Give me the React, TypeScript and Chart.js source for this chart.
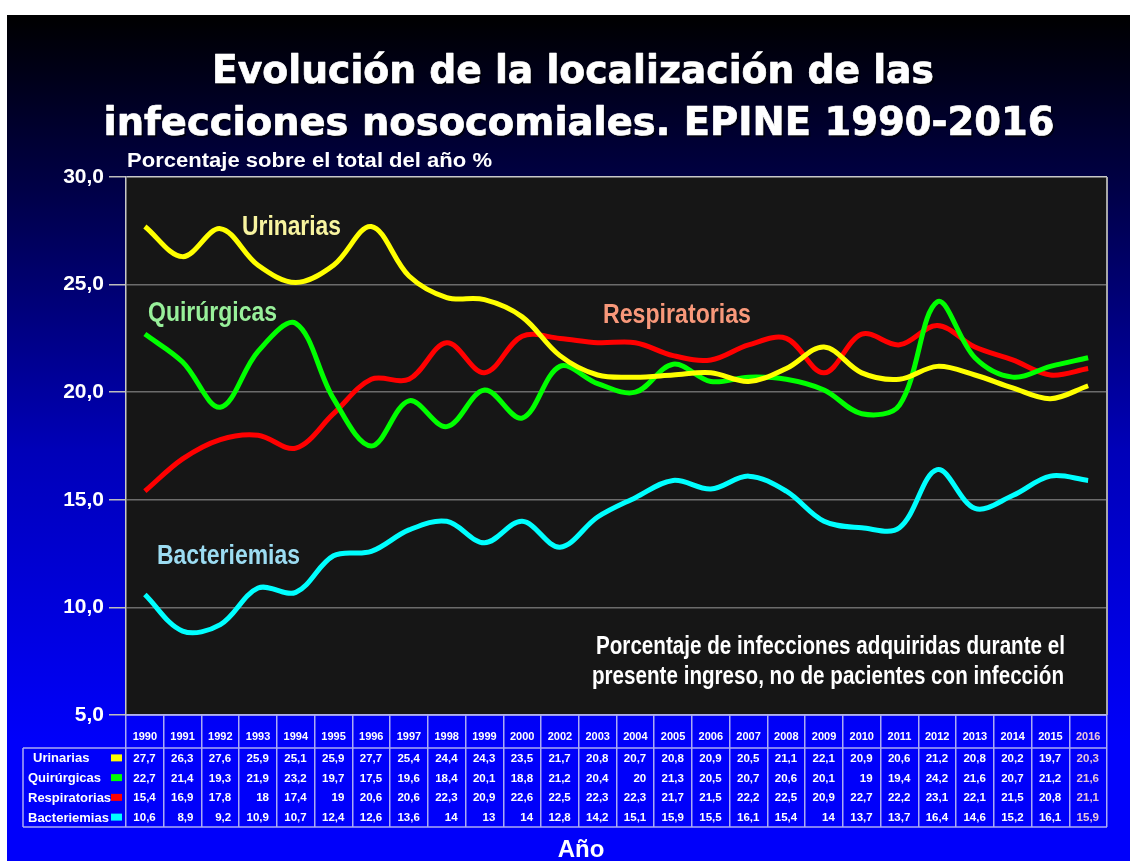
import React, { useEffect, useRef } from 'react';
import { Chart, registerables } from 'chart.js';

Chart.register(...registerables);

const W = 1130;
const H = 861;

const YEARS = ['1990', '1991', '1992', '1993', '1994', '1995', '1996', '1997', '1998', '1999', '2000', '2002', '2003', '2004', '2005', '2006', '2007', '2008', '2009', '2010', '2011', '2012', '2013', '2014', '2015', '2016'];

const URINARIAS = [27.7, 26.3, 27.6, 25.9, 25.1, 25.9, 27.7, 25.4, 24.4, 24.3, 23.5, 21.7, 20.8, 20.7, 20.8, 20.9, 20.5, 21.1, 22.1, 20.9, 20.6, 21.2, 20.8, 20.2, 19.7, 20.3];
const QUIRURGICAS = [22.7, 21.4, 19.3, 21.9, 23.2, 19.7, 17.5, 19.6, 18.4, 20.1, 18.8, 21.2, 20.4, 20, 21.3, 20.5, 20.7, 20.6, 20.1, 19, 19.4, 24.2, 21.6, 20.7, 21.2, 21.6];
const RESPIRATORIAS = [15.4, 16.9, 17.8, 18, 17.4, 19, 20.6, 20.6, 22.3, 20.9, 22.6, 22.5, 22.3, 22.3, 21.7, 21.5, 22.2, 22.5, 20.9, 22.7, 22.2, 23.1, 22.1, 21.5, 20.8, 21.1];
const BACTERIEMIAS = [10.6, 8.9, 9.2, 10.9, 10.7, 12.4, 12.6, 13.6, 14, 13, 14, 12.8, 14.2, 15.1, 15.9, 15.5, 16.1, 15.4, 14, 13.7, 13.7, 16.4, 14.6, 15.2, 16.1, 15.9];

const SERIES_NAMES = ['Urinarias', 'Quirúrgicas', 'Respiratorias', 'Bacteriemias'];
const SERIES_VALUES = [URINARIAS, QUIRURGICAS, RESPIRATORIAS, BACTERIEMIAS];
const SERIES_COLORS = ['#ffff00', '#00ff00', '#ff0000', '#00ffff'];
const LABEL_COLORS = ['#f8f4a0', '#98f09a', '#f8987a', '#9cdcf2'];

const Y_MIN = 5;
const Y_MAX = 30;
const Y_STEP = 5;

const TITLE_LINES = ['Evolución de la localización de las', 'infecciones nosocomiales. EPINE 1990-2016'];
const SUBTITLE = 'Porcentaje sobre el total del año %';
const NOTE_LINES = ['Porcentaje de infecciones adquiridas durante el', 'presente ingreso, no de pacientes con infección'];
const X_TITLE = 'Año';

const SANS = '"Liberation Sans", Arial, sans-serif';
const TITLE_FONT = '"DejaVu Sans", Verdana, sans-serif';

function fmt(v: number): string {
  return Number.isInteger(v) ? String(v) : v.toFixed(1).replace('.', ',');
}

function fitText(ctx: CanvasRenderingContext2D, text: string, x: number, y: number, font: string, width: number, align: CanvasTextAlign, stroke = 0) {
  ctx.save();
  ctx.font = font;
  const m = ctx.measureText(text).width;
  const sx = width / m;
  ctx.translate(x, y);
  ctx.scale(sx, 1);
  ctx.textAlign = align;
  ctx.textBaseline = 'alphabetic';
  ctx.fillText(text, 0, 0);
  if (stroke > 0) {
    ctx.shadowColor = 'transparent';
    ctx.strokeStyle = ctx.fillStyle as string;
    ctx.lineWidth = stroke;
    ctx.lineJoin = 'round';
    ctx.strokeText(text, 0, 0);
  }
  ctx.restore();
}

const decorPlugin = {
  id: 'decor',
  beforeDraw(chart: any) {
    const ctx: CanvasRenderingContext2D = chart.ctx;
    const ca = chart.chartArea;
    ctx.save();
    ctx.fillStyle = '#ffffff';
    ctx.fillRect(0, 0, W, H);
    const g = ctx.createLinearGradient(0, 15, 0, 740);
    g.addColorStop(0, '#000000');
    g.addColorStop(0.25, '#00004a');
    g.addColorStop(0.6, '#0000b8');
    g.addColorStop(1, '#0000fa');
    ctx.fillStyle = g;
    ctx.fillRect(7, 15, W - 7, H - 15);
    // plot background
    ctx.fillStyle = '#161616';
    ctx.fillRect(ca.left, ca.top, ca.right - ca.left, ca.bottom - ca.top);
    // title
    ctx.fillStyle = '#ffffff';
    ctx.shadowColor = 'rgba(0,0,0,0.7)';
    ctx.shadowOffsetX = 2;
    ctx.shadowOffsetY = 2;
    ctx.shadowBlur = 1;
    fitText(ctx, TITLE_LINES[0], 573, 83, 'bold 39px ' + TITLE_FONT, 722, 'center', 0.7);
    fitText(ctx, TITLE_LINES[1], 579, 135, 'bold 39px ' + TITLE_FONT, 951, 'center', 0.7);
    ctx.shadowColor = 'transparent';
    fitText(ctx, SUBTITLE, 127, 167, 'bold 19.5px ' + SANS, 365, 'left');
    ctx.restore();
  },
  afterDatasetsDraw(chart: any) {
    const ctx: CanvasRenderingContext2D = chart.ctx;
    const ca = chart.chartArea;
    const xs = chart.scales.x;
    ctx.save();
    // right plot border
    ctx.strokeStyle = '#a8a8a8';
    ctx.lineWidth = 2;
    ctx.beginPath();
    ctx.moveTo(ca.right, ca.top);
    ctx.lineTo(ca.right, ca.bottom);
    ctx.stroke();

    // series labels inside plot
    const lf = 'bold 27px ' + SANS;
    ctx.fillStyle = LABEL_COLORS[0];
    fitText(ctx, SERIES_NAMES[0], 242, 235, lf, 99, 'left');
    ctx.fillStyle = LABEL_COLORS[1];
    fitText(ctx, SERIES_NAMES[1], 148, 321, lf, 129, 'left');
    ctx.fillStyle = LABEL_COLORS[2];
    fitText(ctx, SERIES_NAMES[2], 603, 323, lf, 148, 'left');
    ctx.fillStyle = LABEL_COLORS[3];
    fitText(ctx, SERIES_NAMES[3], 157, 564, lf, 143, 'left');

    // note
    ctx.fillStyle = '#ffffff';
    fitText(ctx, NOTE_LINES[0], 596, 654, 'bold 25px ' + SANS, 469, 'left');
    fitText(ctx, NOTE_LINES[1], 592, 684, 'bold 25px ' + SANS, 472, 'left');

    // table
    const tableLine = '#aaaaf4';
    const headerBottom = 748;
    const tableBottom = 827;
    const rowH = (tableBottom - headerBottom) / 4;
    const legendLeft = 23;
    ctx.strokeStyle = tableLine;
    ctx.lineWidth = 1.5;
    ctx.beginPath();
    ctx.moveTo(ca.left, ca.bottom);
    ctx.lineTo(ca.right, ca.bottom);
    ctx.moveTo(legendLeft, headerBottom);
    ctx.lineTo(ca.right, headerBottom);
    ctx.moveTo(legendLeft, tableBottom);
    ctx.lineTo(ca.right, tableBottom);
    ctx.moveTo(legendLeft, headerBottom);
    ctx.lineTo(legendLeft, tableBottom);
    ctx.stroke();

    const colW = (ca.right - ca.left) / YEARS.length;
    ctx.textBaseline = 'alphabetic';
    YEARS.forEach((yr, i) => {
      const cx = xs.getPixelForValue(i);
      const last = i === YEARS.length - 1;
      ctx.fillStyle = last ? '#e8c4da' : '#ffffff';
      ctx.font = 'bold 11px ' + SANS;
      ctx.textAlign = 'center';
      ctx.fillText(yr, cx, 740);
      ctx.textAlign = 'right';
      ctx.font = 'bold 11.5px ' + SANS;
      SERIES_VALUES.forEach((vals, r) => {
        const cy = headerBottom + rowH * (r + 0.5);
        ctx.fillText(fmt(vals[i]), cx + colW / 2 - 8, cy + 4);
      });
    });

    ctx.font = 'bold 13px ' + SANS;
    ctx.textAlign = 'left';
    SERIES_NAMES.forEach((name, r) => {
      const cy = headerBottom + rowH * (r + 0.5);
      ctx.fillStyle = '#ffffff';
      ctx.fillText(name, r === 0 ? 33 : 28, cy + 4.5);
      ctx.fillStyle = SERIES_COLORS[r];
      ctx.fillRect(111, cy - 3.5, 11, 7);
    });

    // x axis title
    ctx.fillStyle = '#ffffff';
    ctx.font = 'bold 24px ' + SANS;
    ctx.textAlign = 'center';
    ctx.fillText(X_TITLE, 581, 857);
    ctx.restore();
  },
};

export default function App() {
  const ref = useRef<HTMLCanvasElement>(null);
  useEffect(() => {
    const canvas = ref.current!;
    const chart = new Chart(canvas, {
      type: 'line',
      data: {
        labels: YEARS,
        datasets: SERIES_NAMES.map((name, i) => ({
          label: name,
          data: SERIES_VALUES[i],
          borderColor: SERIES_COLORS[i],
          backgroundColor: SERIES_COLORS[i],
          borderWidth: 5,
          pointRadius: 0,
          tension: 0.35,
          fill: false,
        })),
      },
      options: {
        responsive: false,
        animation: false,
        maintainAspectRatio: false,
        layout: { padding: { left: 0, right: 23, top: 177, bottom: 0 } },
        plugins: {
          legend: { display: false },
          tooltip: { enabled: false },
          title: { display: false },
        },
        scales: {
          x: {
            type: 'category',
            offset: true,
            grid: {
              display: true,
              offset: true,
              drawOnChartArea: false,
              drawTicks: true,
              tickLength: 112,
              color: '#aaaaf4',
              lineWidth: 1.5,
            },
            border: { display: false },
            ticks: { display: false },
            afterFit: (s: any) => {
              s.height = 146;
            },
          },
          y: {
            min: Y_MIN,
            max: Y_MAX,
            ticks: {
              stepSize: Y_STEP,
              color: '#ffffff',
              padding: 5,
              font: { family: SANS, size: 21, weight: 'bold' },
              callback: (v: any) => Number(v).toFixed(1).replace('.', ','),
            },
            grid: {
              color: (c: any) => (c.tick && (c.tick.value === Y_MAX || c.tick.value === Y_MIN) ? '#c8c8c8' : '#6c6c6c'),
              tickColor: '#bdbdbd',
              tickLength: 17,
              lineWidth: 1.5,
            },
            border: { display: true, color: '#c8c8c8', width: 1.5 },
            afterFit: (s: any) => {
              s.width = 126;
            },
          },
        },
      },
      plugins: [decorPlugin],
    } as any);
    return () => chart.destroy();
  }, []);
  return (
    <div style={{ position: 'absolute', left: 0, top: 0, width: W, height: H }}>
      <canvas ref={ref} width={W} height={H} style={{ display: 'block', width: W, height: H }} />
    </div>
  );
}
